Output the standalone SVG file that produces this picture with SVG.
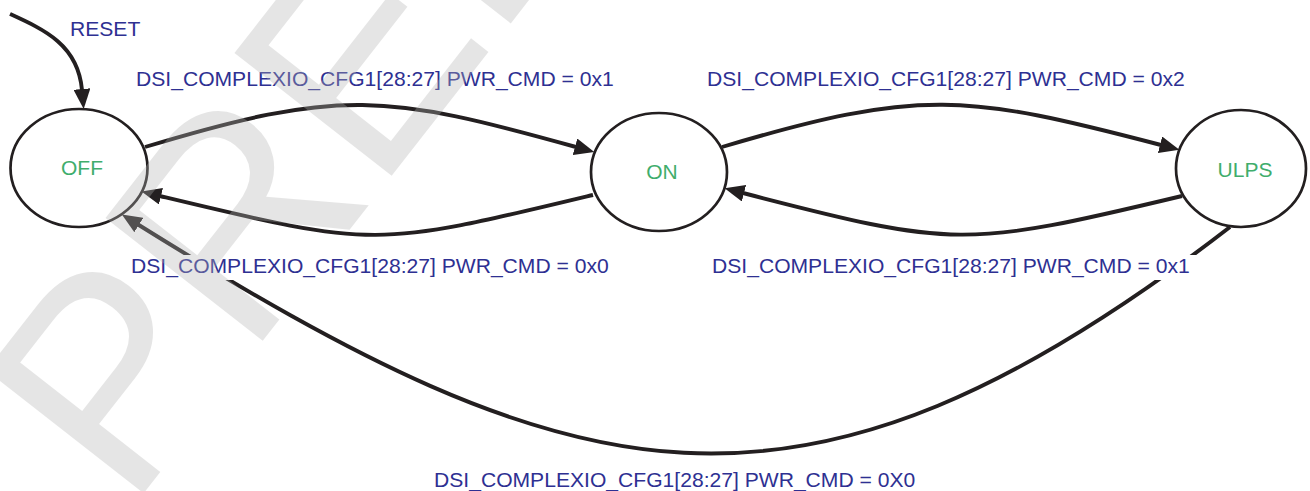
<svg xmlns="http://www.w3.org/2000/svg" width="1310" height="491" viewBox="0 0 1310 491">
<style>
.node{fill:#fff;stroke:#231f20;stroke-width:2.7}
.nt{font-family:"Liberation Sans",Arial,sans-serif;font-size:21px;fill:#40ad6c;text-anchor:middle}
.edge{fill:none;stroke:#231f20;stroke-width:3.9;marker-end:url(#arr)}
.lbl{font-family:"Liberation Sans",Arial,sans-serif;font-size:21.1px;fill:#2e3092}
.bg{fill:#fff}
.wm{font-family:"Liberation Sans",Arial,sans-serif;font-size:290px;fill:#b3b3b3;opacity:0.33}
</style>
<defs>
<marker id="arr" markerWidth="20" markerHeight="17" refX="1" refY="8.5" orient="auto" markerUnits="userSpaceOnUse">
<path d="M0,0 L20,8.5 L0,17 z" fill="#231f20"/>
</marker>
</defs>
<rect width="1310" height="491" fill="#fff"/>
<g id="connectors">
<path class="edge" d="M10,14 C45,30 78,45 82,90"/>
<path class="edge" d="M145,147 C340,88 386,94 576,147"/>
<path class="edge" d="M593,195 C373,248 377,248 160,196"/>
<path class="edge" d="M722,147 C920,88 966,94 1161,145"/>
<path class="edge" d="M1182,196 C965,248 955,248 743,193"/>
<path class="edge" d="M1230,227 C796,562 572,495 138,224.5"/>
</g>
<g id="node-off">
<ellipse class="node" cx="79" cy="168" rx="68.5" ry="59"/>
<text class="nt" x="82" y="175">OFF</text>
</g>
<g id="node-on">
<ellipse class="node" cx="659" cy="172" rx="68" ry="59"/>
<text class="nt" x="662" y="179">ON</text>
</g>
<g id="node-ulps">
<ellipse class="node" cx="1241" cy="168.5" rx="65" ry="58.5"/>
<text class="nt" x="1245" y="177">ULPS</text>
</g>
<g id="labels">
<text class="lbl" x="70" y="36">RESET</text>
<text class="lbl" x="136" y="86">DSI_COMPLEXIO_CFG1[28:27] PWR_CMD = 0x1</text>
<text class="lbl" x="707" y="86">DSI_COMPLEXIO_CFG1[28:27] PWR_CMD = 0x2</text>
<rect class="bg" x="128" y="255" width="489" height="25"/>
<text class="lbl" x="131" y="273">DSI_COMPLEXIO_CFG1[28:27] PWR_CMD = 0x0</text>
<rect class="bg" x="709" y="255" width="489" height="25"/>
<text class="lbl" x="712" y="273">DSI_COMPLEXIO_CFG1[28:27] PWR_CMD = 0x1</text>
<text class="lbl" x="434" y="487">DSI_COMPLEXIO_CFG1[28:27] PWR_CMD = 0X0</text>
</g>
<text class="wm" transform="translate(129,512) rotate(-52)">PRELIMINARY</text>
</svg>
